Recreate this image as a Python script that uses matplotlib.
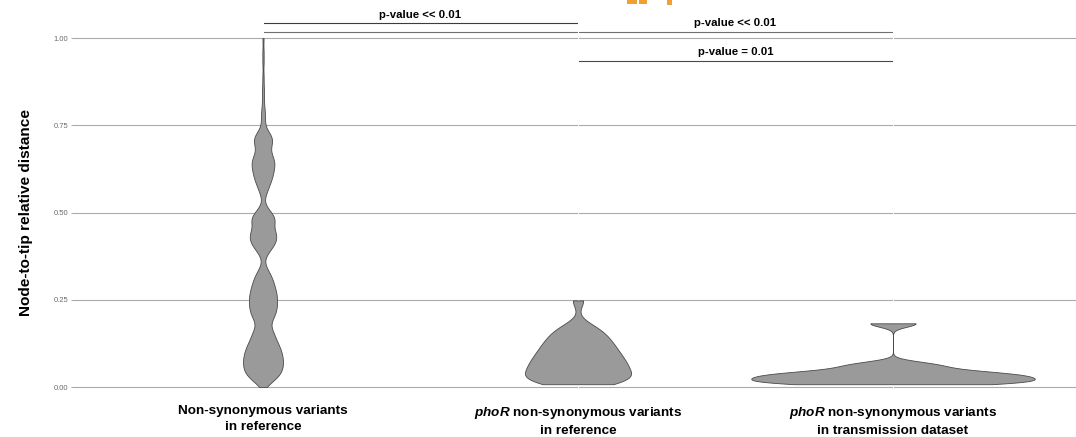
import numpy as np
import matplotlib
matplotlib.use("Agg")
import matplotlib.pyplot as plt
from matplotlib.patches import Rectangle

plt.rcParams['font.family'] = ['Liberation Sans', 'DejaVu Sans']
plt.rcParams['mathtext.fontset'] = 'custom'
plt.rcParams['mathtext.it'] = 'Liberation Sans:italic:bold'
plt.rcParams['mathtext.rm'] = 'Liberation Sans:bold'
plt.rcParams['mathtext.bf'] = 'Liberation Sans:bold'

# ---------------------------------------------------------------- data
categories = [
    "Non-synonymous variants\nin reference",
    "$phoR$ non-synonymous variants\nin reference",
    "$phoR$ non-synonymous variants\nin transmission dataset",
]

# Non-synonymous variants in reference: distances rounded to 0.01 with counts
ref_bins = np.round(np.arange(0.0, 0.805, 0.01), 2)
ref_counts = [
    1, 3, 6, 8, 9, 10, 10, 10, 10, 10,
    9, 9, 8, 7, 6, 6, 5, 4, 3, 4,
    6, 6, 7, 7, 7, 7, 7, 7, 6, 6,
    5, 5, 4, 3, 2, 1, 0, 1, 2, 3,
    5, 6, 7, 7, 7, 6, 4, 6, 7, 6,
    4, 3, 1, 0, 1, 1, 2, 3, 3, 4,
    5, 5, 5, 6, 6, 6, 5, 4, 3, 4,
    5, 5, 5, 3, 1, 1, 1, 1, 1, 1,
    1,
]
ref_tail = [0.82, 0.84, 0.86, 0.89, 0.93, 0.96, 1.00]

# phoR non-synonymous variants in reference
phor_reference = [
    0.008, 0.011, 0.014, 0.018, 0.022, 0.026, 0.030, 0.035, 0.040, 0.045,
    0.050, 0.055, 0.060, 0.065, 0.070, 0.075, 0.080, 0.086, 0.092, 0.098,
    0.104, 0.110, 0.117, 0.124, 0.131, 0.139, 0.147, 0.156, 0.166, 0.178,
    0.248,
]

# phoR non-synonymous variants in transmission dataset
phor_transmission = [
    0.008, 0.010, 0.013, 0.017, 0.021, 0.025, 0.029, 0.033, 0.037, 0.041,
    0.045, 0.058, 0.067, 0.1825,
]

bandwidths = [0.015, 0.02, 0.01]

y_ticks = [0.0, 0.25, 0.50, 0.75, 1.00]
y_ticklabels = ["0.00", "0.25", "0.50", "0.75", "1.00"]

comparisons = [
    (1, 2, "p-value << 0.01"),
    (1, 3, "p-value << 0.01"),
    (2, 3, "p-value = 0.01"),
]


# ---------------------------------------------------------------- helpers
def weighted_kde(grid, values, weights, bw):
    values = np.asarray(values, float)
    weights = np.asarray(weights, float)
    z = (grid[:, None] - values[None, :]) / bw
    dens = (weights[None, :] * np.exp(-0.5 * z ** 2)).sum(axis=1)
    return dens / (weights.sum() * bw * np.sqrt(2 * np.pi))


ref_mask = np.asarray(ref_counts) > 0
group_values = [
    np.concatenate([ref_bins[ref_mask], ref_tail]),
    np.asarray(phor_reference),
    np.asarray(phor_transmission),
]
group_weights = [
    np.concatenate([np.asarray(ref_counts)[ref_mask], np.ones(len(ref_tail))]),
    np.ones(len(phor_reference)),
    np.ones(len(phor_transmission)),
]

grids, densities = [], []
for vals, wts, bw in zip(group_values, group_weights, bandwidths):
    g = np.linspace(vals.min(), vals.max(), 512)
    grids.append(g)
    densities.append(weighted_kde(g, vals, wts, bw))
global_max = max(d.max() for d in densities)

# ---------------------------------------------------------------- figure
W, H = 1076, 437
fig = plt.figure(figsize=(W / 100, H / 100), dpi=100)

ylo, yhi = -0.05, 1.10
px_per_unit_y = 349.0
y0_px = 387.0
bottom_px = y0_px - ylo * px_per_unit_y
top_px = y0_px - yhi * px_per_unit_y
left_px = 74.0
xlo = 0.4
xhi = xlo + (W - left_px) / 315.0

ax = fig.add_axes([left_px / W, 1 - bottom_px / H,
                   (W - left_px) / W, (bottom_px - top_px) / H])
ax.set_xlim(xlo, xhi)
ax.set_ylim(ylo, yhi)

for s in ax.spines.values():
    s.set_visible(False)

ax.set_yticks(y_ticks, y_ticklabels)
ax.grid(axis='y', color='#ababab', linewidth=0.8)
ax.set_axisbelow(True)
ax.tick_params(axis='y', length=2.5, width=0.6, color='#9a9a9a',
               labelsize=5.5, labelcolor='#6a6a6a', pad=1.5)

positions = [1, 2, 3]
for p in positions:
    ax.axvline(p, color='white', linewidth=0.7, zorder=2)

ax.set_xticks(positions, categories)
ax.tick_params(axis='x', length=0, pad=0.5)
for lab in ax.get_xticklabels():
    lab.set_fontsize(9.7)
    lab.set_fontweight('bold')
    lab.set_color('black')
    lab.set_linespacing(1.45)

# violins (area-scaled, trimmed to data range)
for p, g, d in zip(positions, grids, densities):
    half = 0.45 * d / global_max
    ax.fill_betweenx(g, p - half, p + half, facecolor='#9a9a9a',
                     edgecolor='#4a4a4a', linewidth=0.6, zorder=3)

# significance brackets
bar_y = [1.043, 1.016, 0.934]
text_y = [1.056, 1.033, 0.951]
bar_colors = ['#3c3c3c', '#6f6f6f', '#4a4a4a']
for (a, b, label), by, ty, c in zip(comparisons, bar_y, text_y, bar_colors):
    ax.plot([a, b], [by, by], color=c, linewidth=0.8, zorder=1.5,
            clip_on=False, solid_capstyle='butt')
    ax.text((a + b) / 2 if b - a == 1 else 2.5, ty, label, ha='center',
            va='baseline', fontsize=8.2, fontweight='bold', color='black',
            zorder=4, clip_on=False)

fig.text(26 / W, 1 - 212.5 / H, "Node-to-tip relative distance",
         rotation=90, ha='center', va='center', fontsize=11.1,
         fontweight='bold', color='black')

# small orange header fragment at the top edge
for (x0, w, h) in [(627, 10, 4), (639, 8, 3.5), (667, 5, 5)]:
    fig.add_artist(Rectangle((x0 / W, 1 - h / H), w / W, h / H,
                             transform=fig.transFigure, facecolor='#f0a030',
                             edgecolor='none'))

fig.savefig("out.png", dpi=100)
